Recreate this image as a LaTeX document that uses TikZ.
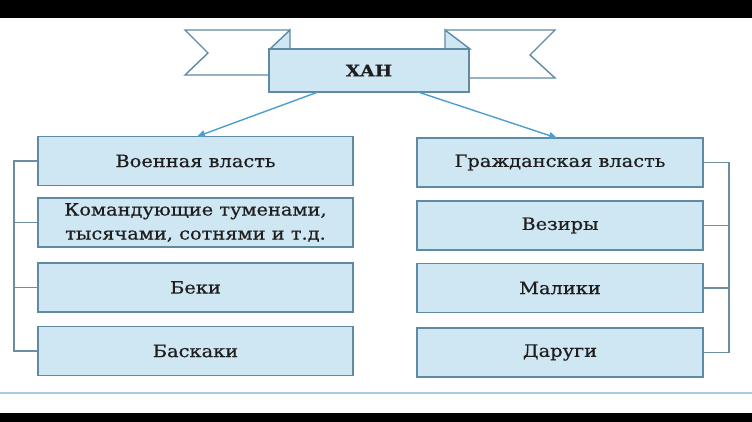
\documentclass[tikz,border=0pt]{standalone}
\usepackage{fontspec}
\setmainfont[FakeStretch=1.14,FakeBold=0.6]{DejaVu Serif}
\usetikzlibrary{arrows.meta}
\definecolor{boxfill}{HTML}{CFE6F3}
\definecolor{boxline}{HTML}{5F8AA3}
\definecolor{conn}{HTML}{6F8DA2}
\definecolor{arrowc}{HTML}{4C9FD0}
\definecolor{baseblue}{HTML}{A6CDE0}
\definecolor{ink}{HTML}{1E1E1E}
\tikzset{
  unit/.style={draw=boxline, fill=boxfill, line width=1.5pt, inner sep=0pt, text=ink, font=\fontsize{17}{24}\selectfont, align=center},
  lbox/.style={unit, minimum width=315pt, minimum height=49pt},
  rbox/.style={unit, minimum width=286pt, minimum height=49pt},
  bracket/.style={draw=conn, line width=1.5pt},
  ribbon/.style={draw=boxline, line width=1.4pt, line join=miter},
  arr/.style={draw=arrowc, line width=1.4pt, -{Triangle[length=8pt,width=7pt]}},
  rule/.style={draw=baseblue, line width=2.2pt}
}
\begin{document}
\begin{tikzpicture}[x=1pt,y=-1pt]
\useasboundingbox (0,0) rectangle (752,422);
\fill[white] (0,0) rectangle (752,422);
\fill[black] (0,0) rectangle (752,18);
\fill[black] (0,413) rectangle (752,422);
% base line
\draw[rule] (0,393) -- (752,393);
% ribbon ends
\draw[ribbon, fill=white] (290,30) -- (185,30) -- (208,53) -- (185,75) -- (275,75);
\draw[ribbon, fill=boxfill] (290,30) -- (270,49) -- (290,49) -- cycle;
\draw[ribbon, fill=white] (445,30) -- (555,30) -- (530,55) -- (555,78) -- (465,78);
\draw[ribbon, fill=boxfill] (445,30) -- (470,49) -- (445,49) -- cycle;
% khan
\node[unit, minimum width=200pt, minimum height=43pt, font=\bfseries\fontsize{16}{18}\selectfont] (khan) at (369,70.5) {ХАН};
% left column
\node[lbox] (mil) at (195.5,161) {Военная власть};
\node[lbox] (kom) at (195.5,222.5) {Командующие туменами,\\тысячами, сотнями и т.д.};
\node[lbox] (bek) at (195.5,287.5) {Беки};
\node[lbox] (bas) at (195.5,351) {Баскаки};
% right column
\node[rbox] (civ) at (560,162.5) {Гражданская власть};
\node[rbox] (vez) at (560,225.5) {Везиры};
\node[rbox] (mal) at (560,288) {Малики};
\node[rbox] (dar) at (560,352.5) {Даруги};
% arrows
\coordinate (ka) at (318,92);
\coordinate (kb) at (418,92);
\coordinate (la) at (197,136.5);
\coordinate (ra) at (557,138);
\draw[arr] (ka) -- (la);
\draw[arr] (kb) -- (ra);
% brackets
\draw[bracket] (mil.west) -| (14,351) -- (bas.west);
\draw[bracket] (kom.west) -- (14,222.5);
\draw[bracket] (bek.west) -- (14,287.5);
\draw[bracket] (civ.east) -| (729,352.5) -- (dar.east);
\draw[bracket] (vez.east) -- (729,225.5);
\draw[bracket] (mal.east) -- (729,288);
\end{tikzpicture}
\end{document}
